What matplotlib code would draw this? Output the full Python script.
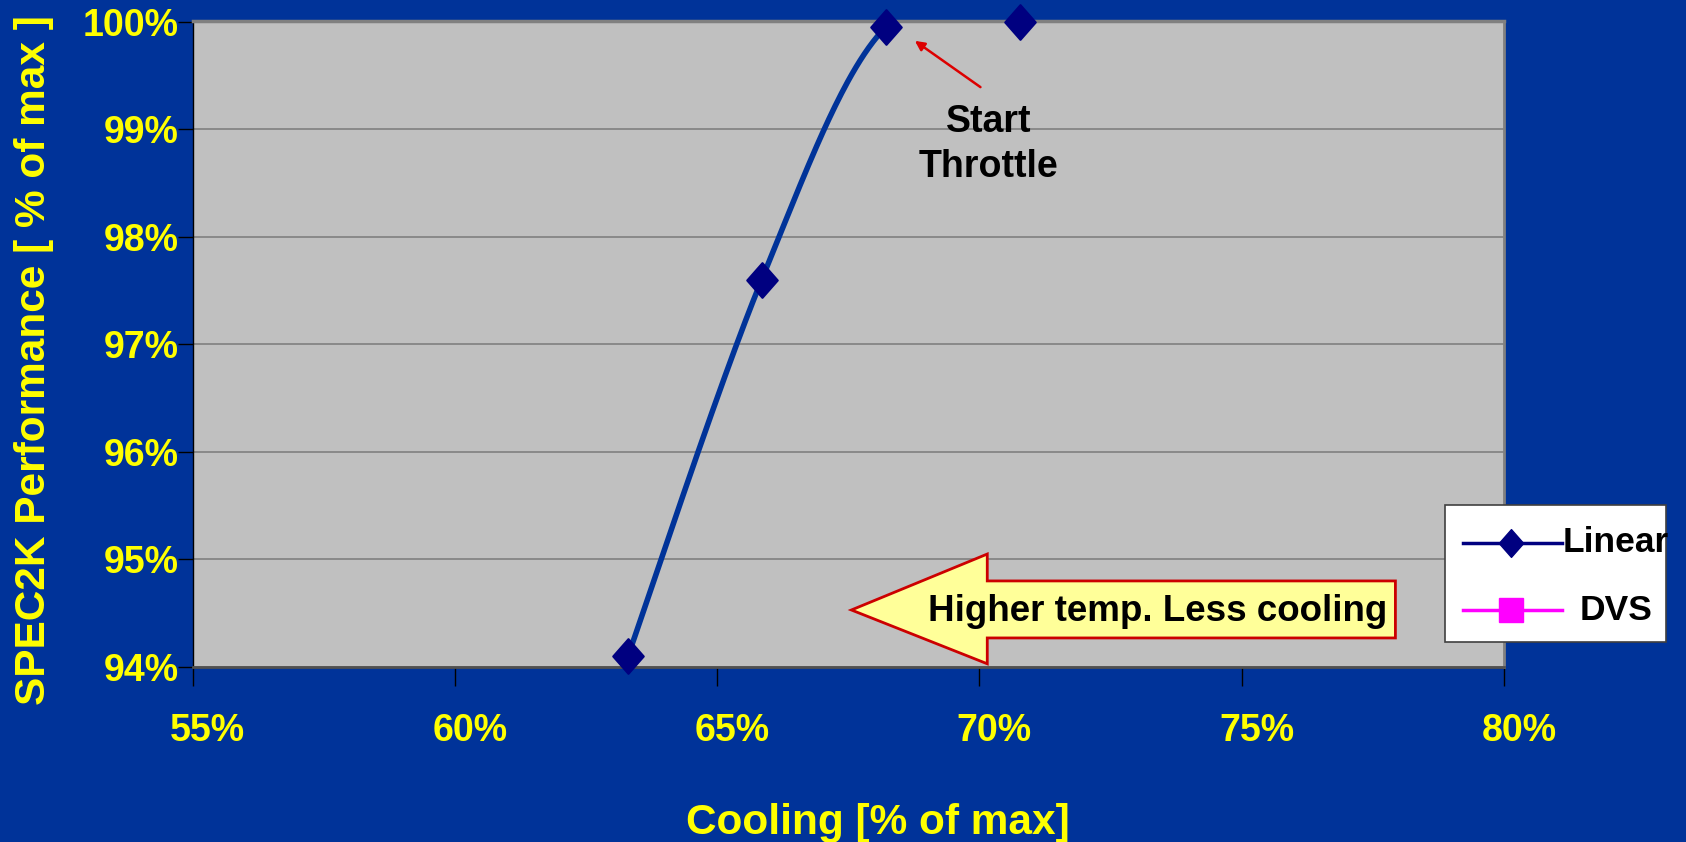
import numpy as np
import matplotlib
matplotlib.use("Agg")
import matplotlib.pyplot as plt
import matplotlib.transforms as mtransforms
from matplotlib.path import Path
from matplotlib.patches import Polygon, Rectangle
from matplotlib.lines import Line2D
from matplotlib.ticker import FuncFormatter

# ---- data ----
cooling = [63.3, 65.85, 68.22, 70.78]          # % of max cooling
perf_linear = [94.1, 97.6, 99.95, 100.0]        # % of max SPEC2K performance
perf_dvs = []                                   # DVS series (no points shown)
series_names = ["Linear", "DVS"]
x_ticks = [55, 60, 65, 70, 75, 80]
y_ticks = [94, 95, 96, 97, 98, 99, 100]

BG = "#003399"
PLOT_BG = "#C0C0C0"
YELLOW = "#FFFF00"
LINE_BLUE = "#003399"
NAVY = "#000080"
MAGENTA = "#FF00FF"

plt.rcParams["font.family"] = ["Liberation Sans", "DejaVu Sans"]
plt.rcParams["font.weight"] = "bold"

fig = plt.figure(figsize=(16.86, 8.42), dpi=100, facecolor=BG)
ax = fig.add_axes([192.5 / 1686, 1 - 667 / 842, (1504 - 192.5) / 1686, (667 - 21.5) / 842])
ax.set_facecolor(PLOT_BG)
ax.set_xlim(55, 80)
ax.set_ylim(94, 100)

ax.set_xticks(x_ticks)
ax.set_yticks(y_ticks)
pct = FuncFormatter(lambda v, p: f"{v:.0f}%")
ax.xaxis.set_major_formatter(pct)
ax.yaxis.set_major_formatter(pct)
ax.tick_params(axis="x", length=14, width=1, color="black", pad=19,
               labelsize=27, labelcolor=YELLOW)
ax.tick_params(axis="y", length=11, width=1, color="black", pad=-1,
               labelsize=27, labelcolor=YELLOW)
shift = mtransforms.ScaledTranslation(15 / 100, 0, fig.dpi_scale_trans)
for lbl in ax.get_xticklabels():
    lbl.set_fontweight("bold")
    lbl.set_transform(lbl.get_transform() + shift)
for lbl in ax.get_yticklabels():
    lbl.set_fontweight("bold")

ax.grid(axis="y", color="#808080", linewidth=1.2)
ax.set_axisbelow(True)
for side, col, lw in [("left", "black", 1.0), ("bottom", "#505050", 2.0),
                      ("top", "#808080", 2.5), ("right", "#808080", 2.0)]:
    ax.spines[side].set_color(col)
    ax.spines[side].set_linewidth(lw)

ax.set_xlabel("Cooling [% of max]", fontsize=30.5, fontweight="bold", color=YELLOW)
ax.xaxis.label.set_verticalalignment("center")
ax.xaxis.set_label_coords(0.5227, -0.242)
ax.set_ylabel("SPEC2K Performance [ % of max ]", fontsize=30.5,
              fontweight="bold", color=YELLOW)
ax.yaxis.label.set_verticalalignment("center")
ax.yaxis.label.set_horizontalalignment("center")
ax.yaxis.set_label_coords(-0.1205, 0.4756)


# smoothed connecting line (Catmull-Rom through the measured points, in screen space)
def smooth_curve(xs, ys, n=60):
    pts = ax.transData.transform(np.column_stack([xs, ys]))
    P = np.vstack([pts[0], pts, pts[-1]])
    out = []
    for i in range(1, len(P) - 2):
        p0, p1, p2, p3 = P[i - 1], P[i], P[i + 1], P[i + 2]
        c1 = p1 + (p2 - p0) / 6.0
        c2 = p2 - (p3 - p1) / 6.0
        t = np.linspace(0, 1, n)[:, None]
        seg = ((1 - t) ** 3) * p1 + 3 * ((1 - t) ** 2) * t * c1 + 3 * (1 - t) * t ** 2 * c2 + t ** 3 * p2
        out.append(seg)
    curve = np.vstack(out)
    return ax.transData.inverted().transform(curve).T


cx, cy = smooth_curve(cooling, perf_linear)
ax.plot(cx, cy, color=LINE_BLUE, linewidth=4.0, zorder=2.4,
        solid_capstyle="round")

diamond = Path([(0, 1), (0.88, 0), (0, -1), (-0.88, 0), (0, 1)],
               [Path.MOVETO, Path.LINETO, Path.LINETO, Path.LINETO, Path.CLOSEPOLY])
ax.plot(cooling, perf_linear, linestyle="none", marker=diamond, markersize=25,
        markerfacecolor=NAVY, markeredgecolor=NAVY, markeredgewidth=1.5,
        clip_on=False, zorder=4)
if perf_dvs:
    ax.plot(cooling[:len(perf_dvs)], perf_dvs, color=MAGENTA, marker="s")

# "Start Throttle" annotation
ax.annotate("", xy=(68.77, 99.82), xytext=(70.02, 99.39),
            arrowprops=dict(arrowstyle="-|>", color="#DD0000", lw=1.8,
                            mutation_scale=14, shrinkA=0, shrinkB=0))
ax.text(70.17, 99.07, "Start", ha="center", va="center", fontsize=27,
        fontweight="bold", color="black")
ax.text(70.17, 98.65, "Throttle", ha="center", va="center", fontsize=27,
        fontweight="bold", color="black")

# block arrow pointing towards lower cooling
arrow_xy = [(67.56, 94.53), (70.15, 95.05), (70.15, 94.80), (77.93, 94.80),
            (77.93, 94.27), (70.15, 94.27), (70.15, 94.03)]
ax.add_patch(Polygon(arrow_xy, closed=True, facecolor="#FFFF99",
                     edgecolor="#CC0000", linewidth=2, clip_on=False, zorder=5))
ax.text(73.4, 94.52, "Higher temp. Less cooling", ha="center", va="center",
        fontsize=26.5, fontweight="bold", color="black", zorder=6)

# legend box
W, H = 1686.0, 842.0
def fx(px):
    return px / W
def fy(py):
    return 1 - py / H

fig.patches.append(Rectangle((fx(1445), fy(642)), fx(1666) - fx(1445), fy(505) - fy(642),
                             transform=fig.transFigure, facecolor="white",
                             edgecolor="#404040", linewidth=1.2, zorder=10))
entries = [(series_names[0], NAVY, diamond, 20, 543, 1563, "left"),
           (series_names[1], MAGENTA, "s", 17, 610, 1616, "center")]
for name, col, mk, ms, py, tx, ha in entries:
    fig.add_artist(Line2D([fx(1463), fx(1562)], [fy(py), fy(py)], transform=fig.transFigure,
                          color=col, linewidth=2.5, zorder=11))
    fig.add_artist(Line2D([fx(1511)], [fy(py)], transform=fig.transFigure, color=col,
                          marker=mk, markersize=ms, markerfacecolor=col,
                          markeredgecolor=col, linestyle="none", zorder=12))
    fig.text(fx(tx), fy(py), name, ha=ha, va="center", fontsize=25.5,
             fontweight="bold", color="black", zorder=13)

fig.savefig("out.png", dpi=100, facecolor=BG)
